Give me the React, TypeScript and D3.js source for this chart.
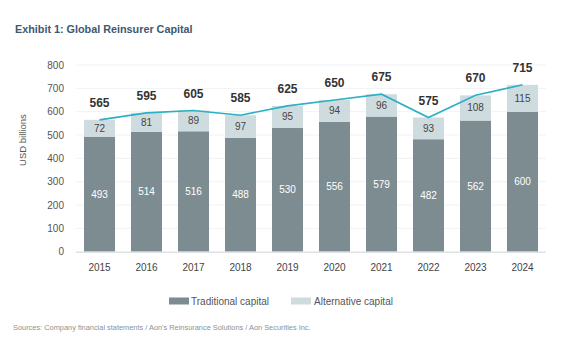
import React from "react";
import * as d3 from "d3";

const years = ["2015", "2016", "2017", "2018", "2019", "2020", "2021", "2022", "2023", "2024"];
const traditional = [493, 514, 516, 488, 530, 556, 579, 482, 562, 600];
const alternative = [72, 81, 89, 97, 95, 94, 96, 93, 108, 115];
const totals = [565, 595, 605, 585, 625, 650, 675, 575, 670, 715];
const yTicks = [0, 100, 200, 300, 400, 500, 600, 700, 800];

const FONT = "'Liberation Sans', Arial, Helvetica, sans-serif";
const DARK = "#7d8c91";
const LIGHT = "#cfdcdf";
const LINE = "#2bb0c4";

export default function App() {
  const W = 580, H = 353;
  const x = d3.scaleBand<string>().domain(years).range([76, 546]).paddingInner(0.34).paddingOuter(0.17);
  const y = d3.scaleLinear().domain([0, 800]).range([251.7, 65]);
  const cx = (i: number) => (x(years[i]) as number) + x.bandwidth() / 2;
  const line = d3.line<number>().x((_, i) => cx(i)).y((d) => y(d));

  return (
    <svg width={W} height={H} style={{ position: "absolute", left: 0, top: 0, background: "#fff" }} fontFamily={FONT}>
      <text x={15} y={33} fontSize={10.8} fontWeight="bold" fill="#3d5873">Exhibit 1: Global Reinsurer Capital</text>
      {yTicks.map((t) => (
        <g key={t}>
          {t > 0 && <line x1={76} x2={546} y1={y(t)} y2={y(t)} stroke="#eef3f4" strokeWidth={1} />}
          <text x={64} y={y(t) + 3.5} fontSize={10} fill="#555" textAnchor="end">{t}</text>
        </g>
      ))}
      <text transform={`translate(26,140) rotate(-90)`} fontSize={9.5} fill="#555" textAnchor="middle">USD billions</text>
      {years.map((yr, i) => {
        const x0 = x(yr) as number;
        const bw = x.bandwidth();
        return (
          <g key={yr}>
            <rect x={x0} width={bw} y={y(traditional[i])} height={y(0) - y(traditional[i])} fill={DARK} />
            <rect x={x0} width={bw} y={y(totals[i])} height={y(traditional[i]) - y(totals[i])} fill={LIGHT} />
            <text x={cx(i)} y={(y(0) + y(traditional[i])) / 2 + 3.5} fontSize={10} fill="#fff" textAnchor="middle">{traditional[i]}</text>
            <text x={cx(i)} y={(y(traditional[i]) + y(totals[i])) / 2 + 3.5} fontSize={10} fill="#444" textAnchor="middle">{alternative[i]}</text>
            <text x={cx(i)} y={y(totals[i]) - 13} fontSize={12} fontWeight="bold" fill="#333" textAnchor="middle">{totals[i]}</text>
            <text x={cx(i)} y={271} fontSize={10} fill="#444" textAnchor="middle">{yr}</text>
          </g>
        );
      })}
      <line x1={76} x2={546} y1={y(0) + 0.5} y2={y(0) + 0.5} stroke="#dde3e5" strokeWidth={1.5} />
      <path d={line(totals) as string} fill="none" stroke={LINE} strokeWidth={1.6} />
      <rect x={169} y={297.5} width={20} height={7} fill={DARK} />
      <text x={191} y={305} fontSize={10} fill="#555">Traditional capital</text>
      <rect x={291} y={297.5} width={20} height={7} fill={LIGHT} />
      <text x={314} y={305} fontSize={10} fill="#555">Alternative capital</text>
      <text x={13} y={330} fontSize={7.4} fill="#8a9296">Sources: Company financial statements / Aon's Reinsurance Solutions / Aon Securities Inc.</text>
    </svg>
  );
}
